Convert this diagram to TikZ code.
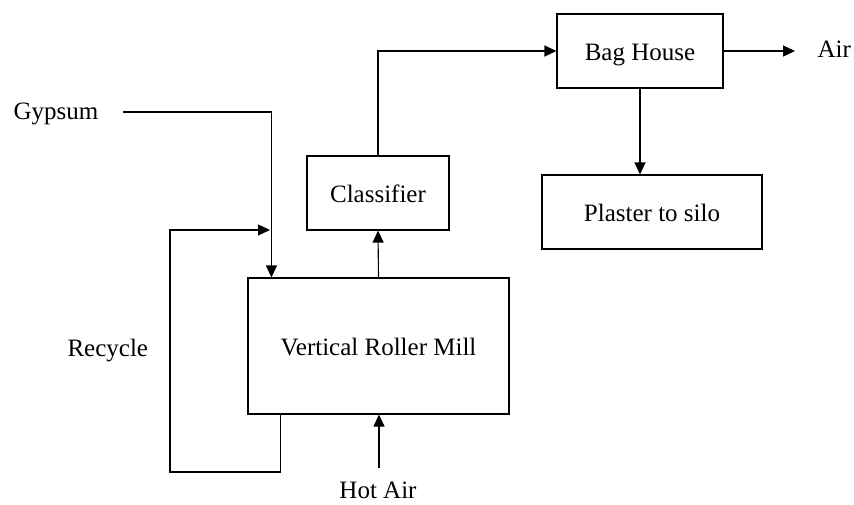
\documentclass[tikz,border=0pt]{standalone}
\usepackage{fontspec}
\setmainfont{Liberation Serif}
\usetikzlibrary{arrows.meta}
\begin{document}
\begin{tikzpicture}[x=1pt,y=-1pt,
  font=\fontsize{25}{30}\selectfont,
  line width=1.1pt,
  box/.style={draw, line width=1.1pt, inner sep=0pt, text height=18pt, text depth=0pt, anchor=center},
  arr/.style={-{Triangle[length=12pt,width=11pt]}},
  lbl/.style={inner sep=0pt}]
\useasboundingbox (0,0) rectangle (854,504);
% boxes
\node[box, minimum width=261pt, minimum height=136pt] (mill) at (378.5,346) {Vertical Roller Mill};
\node[box, minimum width=142pt, minimum height=74pt] (cls) at (378,193) {Classifier};
\node[box, minimum width=166pt, minimum height=74pt] (bag) at (640,51) {Bag House};
\node[box, minimum width=220pt, minimum height=74pt] (pls) at (652,212) {Plaster to silo};
% labels
\node[lbl, anchor=base west] (gyp) at (13,119) {Gypsum};
\node[lbl, anchor=base west] (rec) at (67,356) {Recycle};
\node[lbl, anchor=base west] (air) at (817,57) {Air};
\node[lbl, anchor=base] (hot) at (378,498) {Hot Air};
% free ends
\coordinate (g0) at (123,112);
\coordinate (airtip) at (795,51);
\coordinate (h0) at (379,468);
\coordinate (r1) at (170,472);
\coordinate (r2) at (170,230);
\coordinate (rend) at (270,230);
% connectors
\draw[arr] (g0) -| ([xshift=24pt]mill.north west);
\draw[arr] ([xshift=33pt]mill.south west) |- (r1) -- (r2) -- (rend);
\draw[arr] (mill.north) -- (cls.south);
\draw[arr] (cls.north) |- (bag.west);
\draw[arr] (bag.east) -- (airtip);
\draw[arr] (bag.south) -- (bag.south |- pls.north);
\draw[arr] (h0) -- (h0 |- mill.south);
\end{tikzpicture}
\end{document}
